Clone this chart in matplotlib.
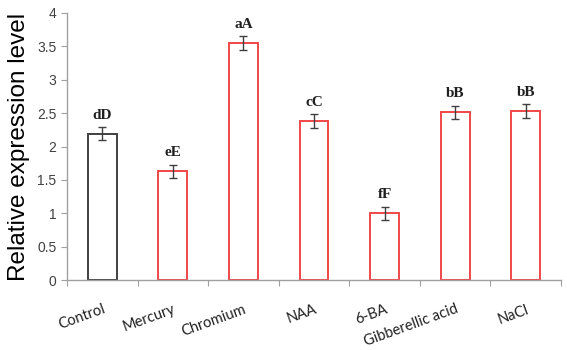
import matplotlib
matplotlib.use("Agg")
import matplotlib.pyplot as plt
import numpy as np

categories = ["Control", "Mercury", "Chromium", "NAA", "6-BA", "Gibberellic acid", "NaCl"]
values = [2.19, 1.63, 3.55, 2.38, 1.00, 2.51, 2.53]
errors = [0.10, 0.10, 0.10, 0.10, 0.10, 0.10, 0.10]
letters = ["dD", "eE", "aA", "cC", "fF", "bB", "bB"]
yticks = [0, 0.5, 1, 1.5, 2, 2.5, 3, 3.5, 4]

fig = plt.figure(figsize=(5.67, 3.5), dpi=100)
ax = fig.add_axes([67/567, 0.2, (561-67)/567, (280-13)/350])

x = np.arange(len(categories))
edgecolors = ["#404040"] + ["#F04848"] * (len(categories) - 1)
ax.bar(x, values, width=0.41, color="white", edgecolor=edgecolors, linewidth=1.4, zorder=2)
ax.errorbar(x, values, yerr=errors, fmt="none", ecolor="#404040", elinewidth=1.0,
            capsize=3, capthick=1.0, zorder=3)
for xi, v, e, t in zip(x, values, errors, letters):
    ax.annotate(t, (xi, v + e), xytext=(0, 4), textcoords="offset points",
                ha="center", va="bottom", fontsize=11, fontweight="bold",
                family="Liberation Serif", color="#202020")

ax.set_xlim(-0.5, len(categories) - 0.5)
ax.set_ylim(0, 4)
ax.set_yticks(yticks)
ax.set_yticklabels([f"{t:g}" for t in yticks], fontsize=10, color="#404040", family="Liberation Sans")
ax.set_xticks(np.arange(len(categories) + 1) - 0.5, minor=False)
ax.set_xticklabels([])
ax.set_xticks(x, minor=True)
ax.set_xticklabels(categories, minor=True, rotation=20, ha="right", rotation_mode="anchor",
                   fontsize=10.5, family="Lato", color="#202020")
ax.tick_params(axis="x", which="minor", length=0, pad=16)
ax.tick_params(axis="x", which="major", length=4, color="#A0A0A0", direction="out")
ax.tick_params(axis="y", length=4, color="#A0A0A0", direction="out")

for s in ["top", "right"]:
    ax.spines[s].set_visible(False)
for s in ["left", "bottom"]:
    ax.spines[s].set_color("#A0A0A0")
    ax.spines[s].set_linewidth(1.0)

ax.set_ylabel("Relative expression level", fontsize=17.5, family="Liberation Sans", color="black", labelpad=5)

fig.savefig("out.png", dpi=100)
